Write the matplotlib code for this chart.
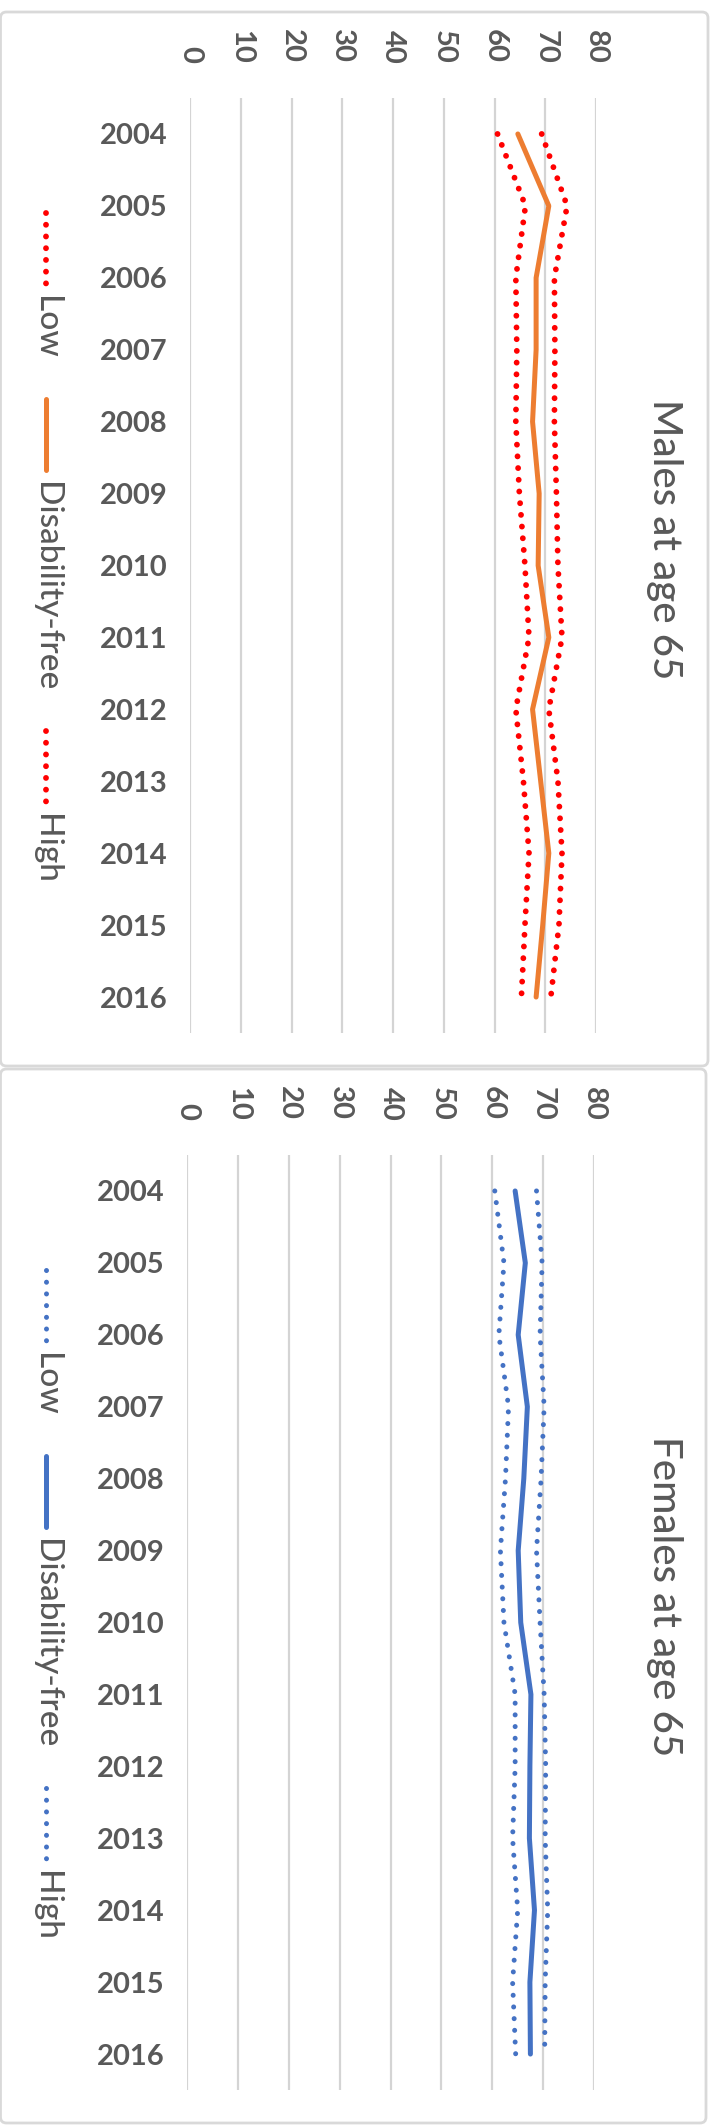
import matplotlib
matplotlib.use("Agg")
import matplotlib.pyplot as plt
import matplotlib.transforms as mtransforms
from matplotlib.lines import Line2D
from matplotlib.patches import FancyBboxPatch

plt.rcParams['font.family'] = ['Lato', 'DejaVu Sans']

W, H = 713, 2125
GREY = '#595959'
GRID = '#D9D9D9'

years = list(range(2004, 2017))
value_ticks = [0, 10, 20, 30, 40, 50, 60, 70, 80]
legend_names = ["Low", "Disability-free", "High"]

# disability-free life expectancy at 65 with its low / high bounds
males_low = [60.6, 66.1, 64.2, 64.4, 64.2, 64.9, 66.0, 66.8, 64.2, 65.7, 66.8, 66.0, 65.3]
males_free = [64.6, 70.7, 68.2, 68.2, 67.5, 68.8, 68.6, 70.7, 67.5, 69.1, 70.7, 69.5, 68.2]
males_high = [69.3, 74.3, 71.8, 71.9, 71.8, 72.2, 72.5, 73.3, 70.7, 72.5, 73.3, 72.7, 71.1]

females_low = [60.5, 62.3, 61.3, 63.2, 62.6, 61.6, 62.3, 64.5, 64.5, 64.0, 65.0, 64.0, 64.6]
females_free = [64.5, 66.5, 65.1, 66.9, 66.2, 65.1, 65.6, 67.6, 67.4, 67.3, 68.3, 67.4, 67.5]
females_high = [68.7, 69.8, 69.4, 70.2, 69.6, 68.7, 69.4, 70.2, 70.5, 70.4, 70.9, 70.4, 70.3]

fig = plt.figure(figsize=(W / 100, H / 100), dpi=100)
fig.patch.set_facecolor('white')

# pixel coordinates, origin top-left
px = mtransforms.Affine2D().scale(1 / W, -1 / H).translate(0, 1) + fig.transFigure


def px_rect(x0, y0, x1, y1):
    return [x0 / W, 1 - y1 / H, (x1 - x0) / W, (y1 - y0) / H]


panels = [
    dict(title="Males at age 65", low=males_low, free=males_free, high=males_high,
         line_color='#ED7D31', band_color='#FF0000', band_lw=4.2, band_gap=2.0,
         frame=(0.5, 12, 708, 1066), plot=(190, 98, 596, 1033), dy=0),
    dict(title="Females at age 65", low=females_low, free=females_free, high=females_high,
         line_color='#4472C4', band_color='#4472C4', band_lw=3.6, band_gap=2.33,
         frame=(0.5, 1069, 706, 2123), plot=(187, 1155, 594, 2090), dy=1057),
]

renderer = fig.canvas.get_renderer()

for p in panels:
    fx0, fy0, fx1, fy1 = p['frame']
    frame = FancyBboxPatch((fx0, fy0), fx1 - fx0, fy1 - fy0,
                           boxstyle='round,pad=0,rounding_size=6',
                           transform=px, facecolor='white', edgecolor=GRID,
                           linewidth=2.0, zorder=0)
    fig.add_artist(frame)

    ax = fig.add_axes(px_rect(*p['plot']))
    ax.set_facecolor('none')
    dotted = (0, (0.01, p['band_gap']))
    ax.plot(p['low'], years, color=p['band_color'], lw=p['band_lw'],
            linestyle=dotted, dash_capstyle='round', zorder=3)
    ax.plot(p['free'], years, color=p['line_color'], lw=3.6,
            solid_capstyle='round', solid_joinstyle='round', zorder=3)
    ax.plot(p['high'], years, color=p['band_color'], lw=p['band_lw'],
            linestyle=dotted, dash_capstyle='round', zorder=3)

    ax.set_xlim(0, 80)
    ax.set_ylim(2016.5, 2003.5)
    ax.set_xticks(value_ticks)
    ax.set_yticks(years)
    ax.set_yticklabels([str(y) for y in years], fontsize=21, fontweight='bold', color=GREY)
    ax.xaxis.tick_top()
    ax.set_xticklabels([str(v) for v in value_ticks], fontsize=21, fontweight='bold',
                       color=GREY, rotation=-90)
    ax.tick_params(axis='x', length=0, pad=25)
    ax.tick_params(axis='y', length=0, pad=16)
    ax.grid(axis='x', color='#D4D4D4', linewidth=1.6)
    ax.grid(axis='y', visible=False)
    for s in ax.spines.values():
        s.set_visible(False)

    # chart title, turned with the chart
    fig.text(664, (fy0 + fy1) / 2, p['title'], transform=px, rotation=-90,
             ha='center', va='center', fontsize=29, color=GREY, fontweight='medium')

    # legend down the left side
    y = 213 + p['dy']
    styles = [dict(color=p['band_color'], lw=p['band_lw'], linestyle=dotted,
                   dash_capstyle='round'),
              dict(color=p['line_color'], lw=3.6, solid_capstyle='round'),
              dict(color=p['band_color'], lw=p['band_lw'], linestyle=dotted,
                   dash_capstyle='round')]
    for name, st in zip(legend_names, styles):
        fig.add_artist(Line2D([46, 46], [y, y + 71], transform=px, **st))
        t = fig.text(46, y + 83, name, transform=px, rotation=-90,
                     ha='center', va='top', fontsize=24, color=GREY,
                     fontweight='medium')
        bb = t.get_window_extent(renderer)
        y = H - bb.y0 + 40

fig.savefig("out.png", dpi=100, facecolor='white')
